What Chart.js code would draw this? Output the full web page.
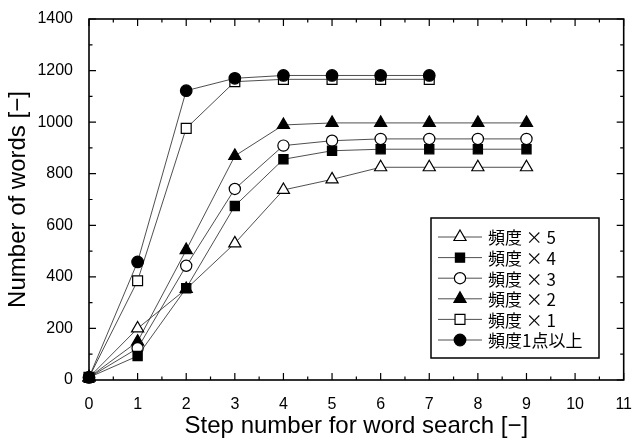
<!DOCTYPE html>
<html>
<head>
<meta charset="utf-8">
<script src="https://cdn.jsdelivr.net/npm/chart.js@4/dist/chart.umd.min.js"></script>
<style>
  html, body { margin: 0; padding: 0; background: #fff; }
  #wrap { width: 639px; height: 441px; }
</style>
</head>
<body>
<div id="wrap"><canvas id="chart" width="639" height="441"></canvas></div>
<script>
// 語彙探索ステップ毎の単語数
const steps = [0, 1, 2, 3, 4, 5, 6, 7, 8, 9];
const freq5 = [10, 200, 353, 530, 737, 778, 825, 825, 825, 825];
const freq4 = [10, 93, 356, 675, 856, 889, 895, 895, 895, 895];
const freq3 = [10, 123, 443, 741, 909, 928, 935, 935, 935, 935];
const freq2 = [10, 149, 504, 869, 989, 997, 997, 997, 997, 997];
const freq1 = [10, 385, 976, 1157, 1166, 1166, 1166, 1166];
const freq1plus = [10, 458, 1122, 1170, 1181, 1181, 1181, 1181];
const legendLabels = ["頻度 × 5", "頻度 × 4", "頻度 × 3", "頻度 × 2", "頻度 × 1", "頻度1点以上"];

const toPoints = (ys) => ys.map((y, i) => ({ x: steps[i], y: y }));

function series(label, ys, style, filled, radius, order) {
  return {
    label: label,
    data: toPoints(ys),
    pointStyle: style,
    pointRadius: radius,
    pointBorderWidth: 1.2,
    pointBackgroundColor: filled ? "#000" : "#fff",
    pointBorderColor: "#000",
    borderColor: "#222",
    borderWidth: 0.8,
    fill: false,
    tension: 0,
    clip: false,
    order: order,
  };
}

// order が小さいほど手前に描かれる
const datasets = [
  series(legendLabels[0], freq5, "triangle", false, 7, 1),
  series(legendLabels[1], freq4, "rect", true, 6.5, -1),
  series(legendLabels[2], freq3, "circle", false, 5.6, 3),
  series(legendLabels[3], freq2, "triangle", true, 7, 4),
  series(legendLabels[4], freq1, "rect", false, 7, 5),
  series(legendLabels[5], freq1plus, "circle", true, 5.8, 0),
];

// 内向きの目盛りと枠線
const framePlugin = {
  id: "frame",
  afterDatasetsDraw(chart) {
    const { ctx, chartArea: a, scales } = chart;
    ctx.save();
    ctx.strokeStyle = "#000";
    ctx.lineWidth = 1.2;
    for (let v = 0; v <= 11; v += 0.5) {
      const px = scales.x.getPixelForValue(v);
      const len = v % 1 === 0 ? 7 : 3.5;
      ctx.beginPath();
      ctx.moveTo(px, a.bottom); ctx.lineTo(px, a.bottom - len);
      ctx.moveTo(px, a.top); ctx.lineTo(px, a.top + len);
      ctx.stroke();
    }
    for (let v = 0; v <= 1400; v += 100) {
      const py = scales.y.getPixelForValue(v);
      const len = v % 200 === 0 ? 7 : 3.5;
      ctx.beginPath();
      ctx.moveTo(a.left, py); ctx.lineTo(a.left + len, py);
      ctx.moveTo(a.right, py); ctx.lineTo(a.right - len, py);
      ctx.stroke();
    }
    ctx.lineWidth = 1.6;
    ctx.strokeRect(a.left, a.top, a.right - a.left, a.bottom - a.top);
    ctx.restore();
  },
};

// 凡例
const legendPlugin = {
  id: "boxLegend",
  afterDraw(chart) {
    const { ctx } = chart;
    const bx = 431, by = 218, bw = 168, bh = 140;
    ctx.save();
    ctx.fillStyle = "#fff";
    ctx.fillRect(bx, by, bw, bh);
    ctx.strokeStyle = "#000";
    ctx.lineWidth = 1.5;
    ctx.strokeRect(bx, by, bw, bh);
    chart.data.datasets.forEach((ds, i) => {
      const y = by + 19 + i * 20.6;
      ctx.strokeStyle = "#222";
      ctx.lineWidth = 0.8;
      ctx.beginPath();
      ctx.moveTo(438, y); ctx.lineTo(482, y);
      ctx.stroke();
      ctx.fillStyle = ds.pointBackgroundColor;
      ctx.strokeStyle = "#000";
      ctx.lineWidth = 1.2;
      Chart.helpers.drawPoint(ctx, {
        pointStyle: ds.pointStyle,
        radius: ds.pointRadius,
        rotation: 0,
        borderWidth: 1.2,
      }, 460, y);
      ctx.fillStyle = "#000";
      ctx.font = '17px "Noto Sans CJK JP"';
      ctx.textBaseline = "middle";
      ctx.textAlign = "left";
      ctx.fillText(ds.label, 488, y + 1);
    });
    ctx.restore();
  },
};

new Chart(document.getElementById("chart"), {
  type: "line",
  data: { datasets: datasets },
  options: {
    responsive: false,
    animation: false,
    layout: { padding: { top: 19, right: 7, left: 0, bottom: 0 } },
    plugins: { legend: { display: false }, tooltip: { enabled: false } },
    scales: {
      x: {
        type: "linear",
        min: 0,
        max: 11,
        grid: { display: false },
        border: { display: false },
        ticks: {
          stepSize: 1,
          padding: 7,
          color: "#000",
          maxRotation: 0,
          font: { family: '"Liberation Sans"', size: 16 },
        },
        title: {
          display: true,
          text: "Step number for word search [−]",
          color: "#000",
          font: { family: '"Liberation Sans"', size: 24 },
          padding: { top: 0, bottom: 0 },
        },
        afterFit(scale) { scale.height = 61; },
      },
      y: {
        min: 0,
        max: 1400,
        grid: { display: false },
        border: { display: false },
        ticks: {
          stepSize: 200,
          padding: 8,
          color: "#000",
          font: { family: '"Liberation Sans"', size: 16 },
          callback: (v) => String(v),
        },
        title: {
          display: true,
          text: "Number of words [−]",
          color: "#000",
          font: { family: '"Liberation Sans"', size: 24 },
          padding: { top: 4, bottom: 0 },
        },
        afterFit(scale) { scale.width = 89; },
      },
    },
  },
  plugins: [framePlugin, legendPlugin],
});
</script>
</body>
</html>
